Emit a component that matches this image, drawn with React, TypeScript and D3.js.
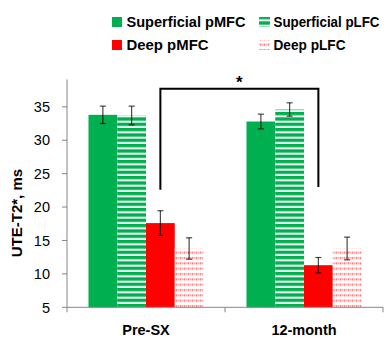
import React from "react";
import * as d3 from "d3";

const categories = ["Pre-SX", "12-month"];
const seriesNames = ["Superficial pMFC", "Superficial pLFC", "Deep pMFC", "Deep pLFC"];
const values = [
  [33.8, 33.7, 17.6, 13.8],
  [32.8, 34.6, 11.3, 13.8],
];
const errors = [
  [1.3, 1.4, 1.85, 1.6],
  [1.1, 1.0, 1.15, 1.7],
];
const yTicks = [5, 10, 15, 20, 25, 30, 35];
const yDomain = [5, 40];
const yAxisTop = 39.1;
const bracketTop = 37.7;
const bracketBottoms = [22.6, 23.0];
const bracketSeries = 2;

const W = 386;
const H = 337;
const GREEN = "#00B050";
const RED = "#FF0000";
const FONT = "'Liberation Sans', Arial, sans-serif";

const legendLayout = [
  { x: 112, y: 17, tx: 126.5, ty: 26.7, len: 119 },
  { x: 259, y: 17, tx: 273.5, ty: 26.7, len: 106 },
  { x: 112, y: 40, tx: 126.5, ty: 50, len: 82 },
  { x: 259, y: 40, tx: 273.5, ty: 50, len: 72 },
];

export default function App() {
  const x0 = d3.scaleBand<string>().domain(categories).range([67, 383]).paddingInner(0.272).paddingOuter(0.136);
  const x1 = d3.scaleBand<string>().domain(seriesNames).range([0, x0.bandwidth()]);
  const y = d3.scaleLinear().domain(yDomain).range([307.3, 73.4]);

  const fills = [GREEN, "url(#stripes)", RED, "url(#dots)"];
  const errColor = "rgba(0,0,0,0.72)";

  const bx = (ci: number, si: number) => (x0(categories[ci]) as number) + (x1(seriesNames[si]) as number);
  const bw = x1.bandwidth();

  const bl = bx(0, bracketSeries) + bw / 2;
  const br = bx(1, bracketSeries) + bw / 2;
  const bracketPath = d3.line()([
    [bl, y(bracketBottoms[0])],
    [bl, y(bracketTop)],
    [br, y(bracketTop)],
    [br, y(bracketBottoms[1])],
  ]) as string;

  const xTickPos = [67, ...categories.map((c) => (x0(c) as number) + x0.bandwidth() + (x0.step() - x0.bandwidth()) / 2)];

  return (
    <svg width={W} height={H} style={{ position: "absolute", left: 0, top: 0 }} fontFamily={FONT}>
      <defs>
        <pattern id="stripes" patternUnits="userSpaceOnUse" width={6} height={16 / 3}>
          <rect width={6} height={16 / 3} fill="#f4fbf6" />
          <rect width={6} height={3.3} fill={GREEN} />
        </pattern>
        <pattern id="dots" patternUnits="userSpaceOnUse" width={4} height={16 / 3}>
          <rect width={4} height={16 / 3} fill="#ffffff" />
          <rect y={1} width={4} height={2} fill="#ffc4c4" />
          <rect y={1} width={1} height={2} fill="#ff7a7a" />
          <rect x={2} y={1.5} width={1} height={1} fill="#ff9a9a" />
        </pattern>
      </defs>

      {/* legend */}
      {seriesNames.map((s, i) => (
        <g key={s}>
          <rect x={legendLayout[i].x} y={legendLayout[i].y} width={i % 2 === 1 ? 11 : 10} height={10} fill={fills[i]} />
          <text
            x={legendLayout[i].tx}
            y={legendLayout[i].ty}
            fontSize={14}
            fontWeight="bold"
            fill="#000"
            textLength={legendLayout[i].len}
            lengthAdjust="spacingAndGlyphs"
          >
            {s}
          </text>
        </g>
      ))}

      {/* y axis */}
      <line x1={67} x2={67} y1={y(yAxisTop)} y2={y(yDomain[0])} stroke="#868686" strokeWidth={1} />
      {yTicks.map((t) => (
        <g key={t}>
          <line x1={62} x2={67} y1={y(t)} y2={y(t)} stroke="#868686" strokeWidth={1} />
          <text x={50} y={y(t)} dy="0.36em" textAnchor="end" fontSize={14.5} fill="#000">
            {t}
          </text>
        </g>
      ))}

      {/* bars */}
      {categories.map((c, ci) =>
        seriesNames.map((s, si) => (
          <rect
            key={c + s}
            x={bx(ci, si)}
            y={y(values[ci][si])}
            width={bw}
            height={y(yDomain[0]) - y(values[ci][si])}
            fill={fills[si]}
          />
        ))
      )}

      {/* x axis */}
      <line x1={67} x2={383} y1={y(yDomain[0])} y2={y(yDomain[0])} stroke="#868686" strokeWidth={1} />
      {xTickPos.map((p, i) => (
        <line key={i} x1={p} x2={p} y1={y(yDomain[0])} y2={y(yDomain[0]) + 5} stroke="#868686" strokeWidth={1} />
      ))}

      {/* error bars */}
      {categories.map((c, ci) =>
        seriesNames.map((s, si) => {
          const cx = bx(ci, si) + bw / 2;
          const v = values[ci][si];
          const e = errors[ci][si];
          return (
            <g key={"e" + c + s} stroke={errColor} strokeWidth={1.2}>
              <line x1={cx} x2={cx} y1={y(v + e)} y2={y(v - e)} />
              <line x1={cx - 3} x2={cx + 3} y1={y(v + e)} y2={y(v + e)} />
              <line x1={cx - 3} x2={cx + 3} y1={y(v - e)} y2={y(v - e)} />
            </g>
          );
        })
      )}

      {/* bracket */}
      <path d={bracketPath} fill="none" stroke="#000" strokeWidth={2} />
      <text x={(bl + br) / 2} y={y(bracketTop) - 1} textAnchor="middle" fontSize={17} fontWeight="bold">
        *
      </text>

      {/* x labels */}
      {categories.map((c) => (
        <text key={c} x={(x0(c) as number) + x0.bandwidth() / 2} y={335} textAnchor="middle" fontSize={14.5} fontWeight="bold">
          {c}
        </text>
      ))}

      {/* y label */}
      <text transform={`translate(22,${(y(yTicks[0]) + y(yTicks[yTicks.length - 1])) / 2 + 6}) rotate(-90)`} textAnchor="middle" fontSize={15} fontWeight="bold">
        UTE-T2*, ms
      </text>
    </svg>
  );
}
